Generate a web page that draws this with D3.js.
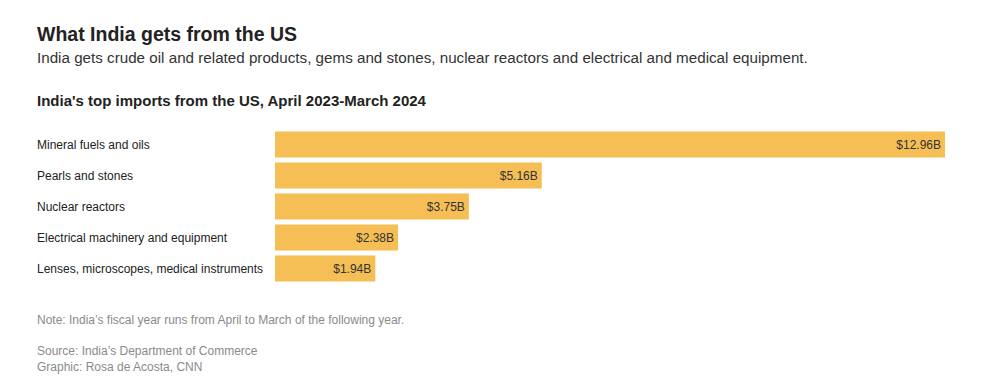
<!DOCTYPE html>
<html>
<head>
<meta charset="utf-8">
<script src="https://cdn.jsdelivr.net/npm/d3@7"></script>
<style>
  body { margin: 0; background: #fff; font-family: "Liberation Sans", Arial, sans-serif; }
</style>
</head>
<body>
<svg id="chart"></svg>
<script>
const categories = ['Mineral fuels and oils', 'Pearls and stones', 'Nuclear reactors',
                    'Electrical machinery and equipment', 'Lenses, microscopes, medical instruments'];
const values = [12.96, 5.16, 3.75, 2.38, 1.94];

const width = 982, height = 392;
const svg = d3.select('#chart').attr('width', width).attr('height', height);

svg.append('text').attr('x', 37).attr('y', 41)
    .style('font-size', '19.5px').style('font-weight', 'bold').style('fill', '#222')
    .text('What India gets from the US');
svg.append('text').attr('x', 37).attr('y', 63)
    .style('font-size', '15.2px').style('fill', '#333')
    .text('India gets crude oil and related products, gems and stones, nuclear reactors and electrical and medical equipment.');
svg.append('text').attr('x', 37).attr('y', 106)
    .style('font-size', '15px').style('font-weight', 'bold').style('fill', '#222')
    .text("India's top imports from the US, April 2023-March 2024");

const x = d3.scaleLinear().domain([0, d3.max(values)]).range([275, 945]);
const y = d3.scaleBand().domain(categories).range([129, 284]).paddingInner(0.16).paddingOuter(0.08);

const rows = svg.append('g').selectAll('g')
    .data(categories)
    .join('g');

rows.append('rect')
    .attr('x', x(0))
    .attr('y', d => y(d))
    .attr('width', (d, i) => x(values[i]) - x(0))
    .attr('height', y.bandwidth())
    .style('fill', '#f6bf55');

rows.append('text')
    .attr('x', 37)
    .attr('y', d => y(d) + y.bandwidth() / 2)
    .attr('dy', '0.35em')
    .style('font-size', '12px').style('fill', '#222')
    .text(d => d);

rows.append('text')
    .attr('x', (d, i) => x(values[i]) - 4)
    .attr('y', d => y(d) + y.bandwidth() / 2)
    .attr('dy', '0.35em')
    .attr('text-anchor', 'end')
    .style('font-size', '12px').style('fill', '#333')
    .text((d, i) => '$' + values[i].toFixed(2) + 'B');

const foot = [
    ['Note: India\u2019s fiscal year runs from April to March of the following year.', 324],
    ['Source: India\u2019s Department of Commerce', 355],
    ['Graphic: Rosa de Acosta, CNN', 371]
];
svg.append('g').selectAll('text')
    .data(foot)
    .join('text')
    .attr('x', 37)
    .attr('y', d => d[1])
    .style('font-size', '12px').style('fill', '#8a8a8a')
    .text(d => d[0]);
</script>
</body>
</html>
